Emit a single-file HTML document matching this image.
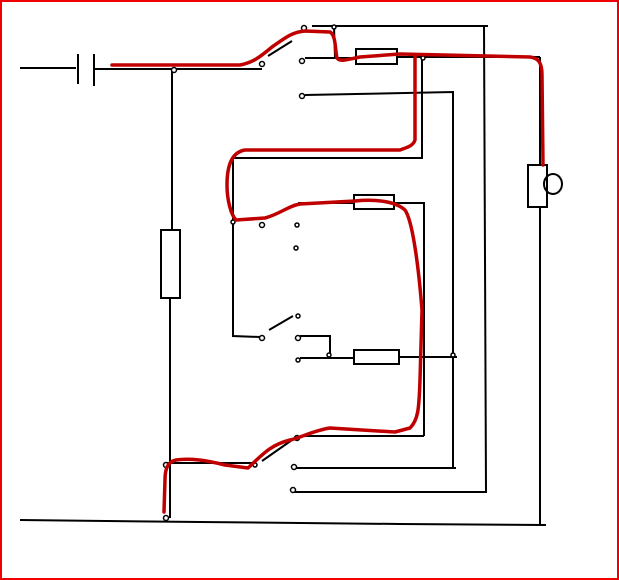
<!DOCTYPE html>
<html><head><style>html,body{margin:0;padding:0;background:#fff}svg{display:block}</style></head><body>
<svg width="619" height="580" viewBox="0 0 619 580" xmlns="http://www.w3.org/2000/svg">
<rect x="1" y="1" width="617" height="578" fill="#fff" stroke="#f00000" stroke-width="2"/>
<g stroke="#000" stroke-width="2" fill="none">
<line x1="20" y1="68" x2="76" y2="68"/>
<line x1="78" y1="54" x2="78" y2="84"/>
<line x1="94" y1="54" x2="94" y2="86"/>
<line x1="94" y1="69" x2="262" y2="69"/>
<polyline points="172,70 172,230"/>
<rect x="161" y="230" width="19" height="68"/>
<polyline points="170,298 170,518"/>
<line x1="268" y1="56" x2="292" y2="41"/>
<line x1="312" y1="26" x2="488" y2="26"/>
<line x1="484" y1="26" x2="486" y2="492"/>
<polyline points="334,27 335,57"/>
<line x1="305" y1="58" x2="356" y2="58"/>
<rect x="356" y="49" width="41" height="15"/>
<line x1="397" y1="57" x2="540" y2="57"/>
<line x1="540" y1="57" x2="540" y2="165"/>
<rect x="528" y="165" width="19" height="42"/>
<ellipse cx="553" cy="184" rx="9" ry="10"/>
<line x1="540" y1="207" x2="540" y2="524"/>
<polyline points="305,95 453,92 453,468"/>
<polyline points="422,58 422,158 233,158 233,336 260,337"/>
<line x1="298" y1="203" x2="354" y2="203"/>
<rect x="354" y="195" width="40" height="14"/>
<polyline points="394,203 424,203 424,436"/>
<line x1="269" y1="330" x2="293" y2="316"/>
<polyline points="300,336 330,336 330,356"/>
<line x1="300" y1="358" x2="354" y2="358"/>
<rect x="354" y="350" width="45" height="14"/>
<line x1="399" y1="357" x2="457" y2="357"/>
<line x1="166" y1="463" x2="252" y2="463"/>
<line x1="262" y1="461" x2="292" y2="440"/>
<line x1="300" y1="436" x2="424" y2="436"/>
<line x1="296" y1="468" x2="456" y2="468"/>
<line x1="294" y1="492" x2="487" y2="492"/>
<polyline points="20,520 200,522 400,524 546,525"/>
</g>
<g stroke="#000" stroke-width="1.5" fill="#fff">
<circle cx="174" cy="70" r="2.5"/><circle cx="262" cy="64" r="2.5"/><circle cx="304" cy="28" r="2.5"/>
<circle cx="334" cy="27" r="2"/><circle cx="302" cy="61" r="2.5"/><circle cx="423" cy="58" r="2"/>
<circle cx="302" cy="96" r="2.5"/><circle cx="233" cy="222" r="2"/><circle cx="262" cy="225" r="2.5"/>
<circle cx="297" cy="225" r="2"/><circle cx="296" cy="248" r="2"/><circle cx="262" cy="338" r="2.5"/>
<circle cx="298" cy="316" r="2"/><circle cx="298" cy="338" r="2.5"/><circle cx="298" cy="360" r="2"/>
<circle cx="329" cy="355" r="2"/><circle cx="453" cy="355" r="2"/><circle cx="166" cy="465" r="2.5"/>
<circle cx="255" cy="465" r="2"/><circle cx="297" cy="438" r="2.5"/><circle cx="294" cy="467" r="2.5"/>
<circle cx="293" cy="490" r="2.5"/><circle cx="166" cy="518" r="2.5"/>
</g>
<g stroke="#c00000" stroke-width="3.5" fill="none" stroke-linecap="round" stroke-linejoin="round">
<path d="M112,65 L240,65 C255,62 262,55 272,47 C285,38 292,32 305,31 L330,32 C336,35 335,50 337,58 C340,62 345,60 360,57 L400,54 L530,57 C538,58 542,62 542,75 L543,165"/>
<path d="M415,56 L415,140 C413,146 408,147 400,150 L245,150 C232,152 227,165 227,185 C227,200 231,215 236,220 L265,218 C280,214 288,206 300,204 L355,201 C375,199 395,201 405,210 C412,220 418,260 422,310 L420,380 C419,410 418,420 410,428 L395,432 L330,428 C315,430 300,438 290,440 C270,445 262,455 248,468 L225,465 C205,460 190,458 176,460 C167,462 165,470 165,480 L164,512"/>
</g>
</svg>
</body></html>
